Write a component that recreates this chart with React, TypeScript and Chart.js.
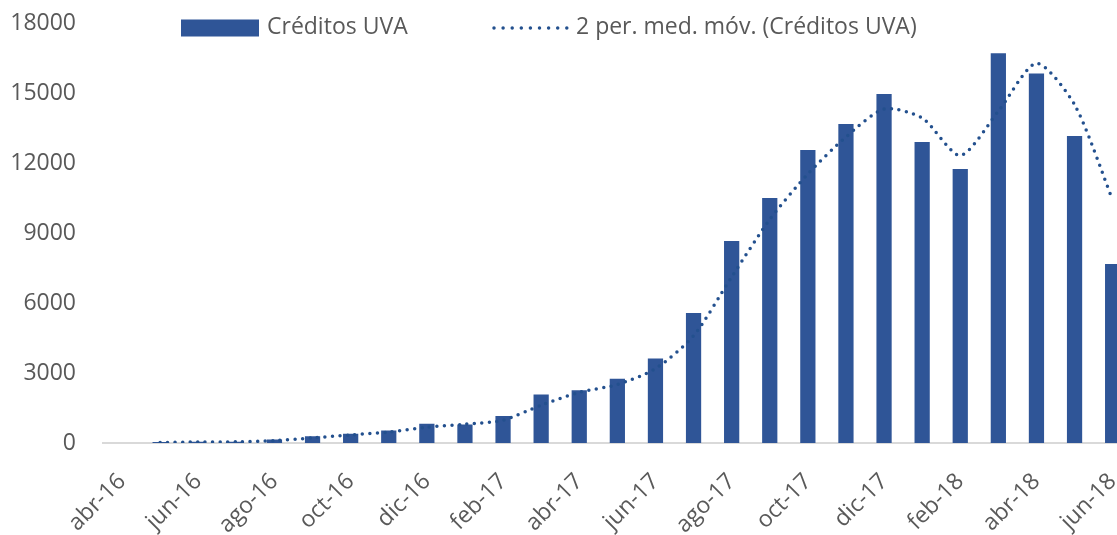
import React, { useEffect, useRef } from "react";
import { Chart, registerables } from "chart.js";

Chart.register(...registerables);

// ---- data ----
const categories: string[] = [
  "abr-16", "may-16", "jun-16", "jul-16", "ago-16", "sep-16", "oct-16", "nov-16", "dic-16",
  "ene-17", "feb-17", "mar-17", "abr-17", "may-17", "jun-17", "jul-17", "ago-17", "sep-17",
  "oct-17", "nov-17", "dic-17", "ene-18", "feb-18", "mar-18", "abr-18", "may-18", "jun-18",
];

const creditosUVA: number[] = [
  0, 40, 50, 50, 150, 290, 400, 540, 820,
  790, 1160, 2080, 2260, 2750, 3620, 5570, 8660, 10500,
  12560, 13670, 14960, 12900, 11740, 16700, 15840, 13160, 7670,
];

// 2-period moving average line
const mediaMovil2: (number | null)[] = [
  null, 20, 45, 50, 100, 220, 345, 470, 680,
  805, 975, 1620, 2170, 2505, 3185, 4595, 7115, 9580,
  11530, 13115, 14315, 13930, 12320, 14220, 16270, 14500, 10415,
];

const yTickValues: number[] = [0, 3000, 6000, 9000, 12000, 15000, 18000];

const seriesNames: string[] = ["Créditos UVA", "2 per. med. móv. (Créditos UVA)"];

// ---- styles ----
const FONT_FAMILY = "'Open Sans', sans-serif";
const FONT_SIZE = 23;
const TEXT_COLOR = "#595959";
const BAR_COLOR = "#2f5597";
const LINE_COLOR = "#23508e";
const AXIS_COLOR = "#d9d9d9";

const legendPlugin = {
  id: "excelLegend",
  afterDraw(chart: any) {
    const ctx: CanvasRenderingContext2D = chart.ctx;
    const ds = chart.data.datasets;
    const y = 27.5;
    ctx.save();
    ctx.font = `${FONT_SIZE}px ${FONT_FAMILY}`;
    ctx.textBaseline = "middle";
    ctx.textAlign = "left";
    // bar item
    ctx.fillStyle = ds[0].backgroundColor;
    ctx.fillRect(181, 19.5, 78, 17);
    ctx.fillStyle = TEXT_COLOR;
    ctx.fillText(ds[0].label, 267, y);
    // line item
    ctx.strokeStyle = ds[1].borderColor;
    ctx.lineWidth = 3.5;
    ctx.lineCap = "round";
    ctx.setLineDash([0, 9.1]);
    ctx.beginPath();
    ctx.moveTo(494, y + 0.5);
    ctx.lineTo(568, y + 0.5);
    ctx.stroke();
    ctx.setLineDash([]);
    ctx.fillStyle = TEXT_COLOR;
    ctx.fillText(ds[1].label, 576, y);
    ctx.restore();
  },
};

const INNER_WIDTH = 1145;
const HEIGHT = 535;

export default function App() {
  const canvasRef = useRef<HTMLCanvasElement | null>(null);

  useEffect(() => {
    if (!canvasRef.current) return;
    const chart = new Chart(canvasRef.current, {
      type: "bar",
      data: {
        labels: categories,
        datasets: [
          {
            type: "bar",
            label: seriesNames[0],
            data: creditosUVA,
            backgroundColor: BAR_COLOR,
            borderWidth: 0,
            barPercentage: 0.4,
            categoryPercentage: 1.0,
            order: 1,
          },
          {
            type: "line",
            label: seriesNames[1],
            data: mediaMovil2,
            borderColor: LINE_COLOR,
            backgroundColor: LINE_COLOR,
            borderWidth: 3.5,
            borderDash: [0, 7.5],
            borderCapStyle: "round",
            pointRadius: 0,
            pointHoverRadius: 0,
            tension: 0.25,
            fill: false,
            spanGaps: false,
            order: 0,
          } as any,
        ],
      },
      options: {
        animation: false,
        responsive: true,
        maintainAspectRatio: false,
        layout: { padding: { top: 23, right: 13.3, left: 0, bottom: 0 } },
        plugins: {
          legend: { display: false },
          tooltip: { enabled: false },
          title: { display: false },
        },
        scales: {
          x: {
            offset: true,
            grid: { display: false, drawTicks: false },
            border: { display: true, color: AXIS_COLOR, width: 2 },
            ticks: {
              autoSkip: false,
              minRotation: 45,
              maxRotation: 45,
              padding: 25,
              color: TEXT_COLOR,
              font: { family: FONT_FAMILY, size: FONT_SIZE },
              callback: (_v: any, i: number) => (i % 2 === 0 ? categories[i] : ""),
            },
            afterFit: (s: any) => {
              s.height = HEIGHT - 443;
              s.paddingLeft = 0;
              s.paddingRight = 0;
            },
          },
          y: {
            min: yTickValues[0],
            max: yTickValues[yTickValues.length - 1],
            grid: { display: false, drawTicks: false },
            border: { display: false },
            afterBuildTicks: (s: any) => {
              s.ticks = yTickValues.map((v) => ({ value: v }));
            },
            ticks: {
              padding: 27,
              color: TEXT_COLOR,
              font: { family: FONT_FAMILY, size: FONT_SIZE },
              callback: (v: any) => String(v),
            },
            afterFit: (s: any) => {
              s.width = 103;
              s.paddingTop = 0;
              s.paddingBottom = 0;
            },
          },
        },
      },
      plugins: [legendPlugin],
    });
    return () => chart.destroy();
  }, []);

  return (
    <div
      style={{
        position: "absolute",
        left: 0,
        top: 0,
        width: 1117,
        height: HEIGHT,
        overflow: "hidden",
        background: "#fff",
      }}
    >
      <div style={{ position: "relative", width: INNER_WIDTH, height: HEIGHT }}>
        <canvas ref={canvasRef} />
      </div>
    </div>
  );
}
